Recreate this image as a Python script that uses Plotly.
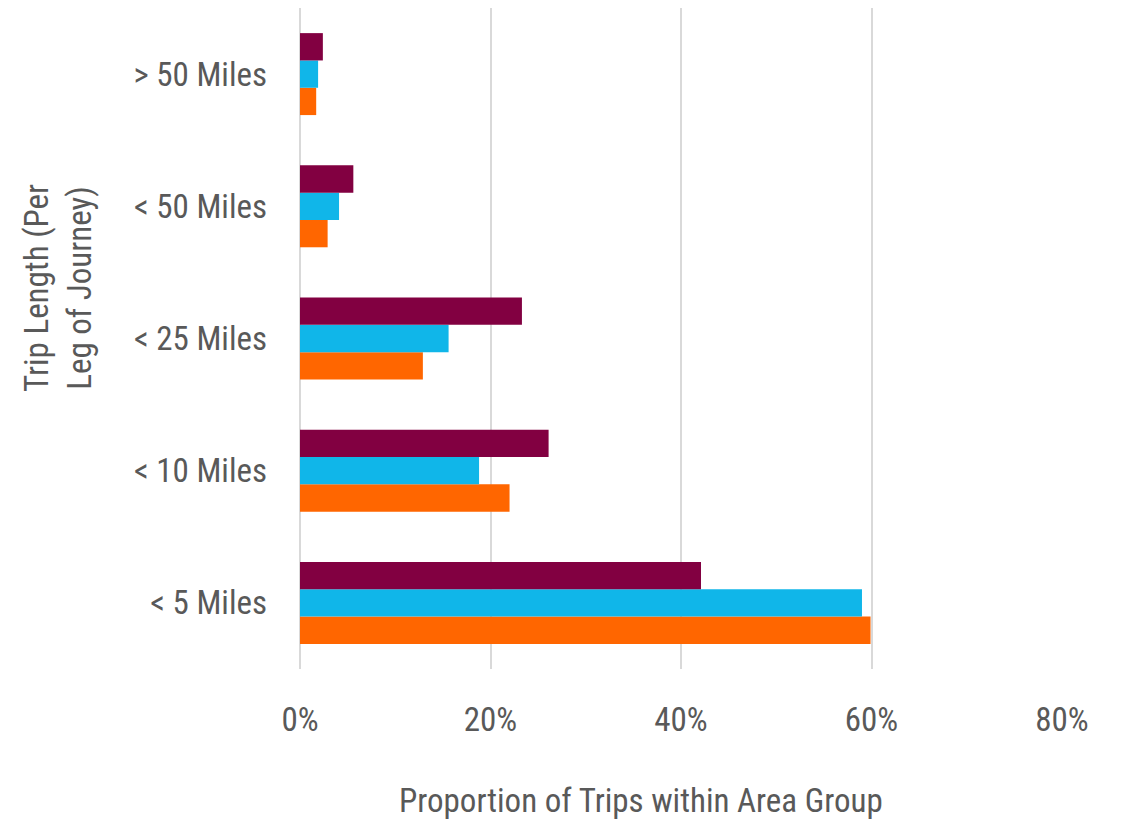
import plotly.graph_objects as go

categories = ["< 5 Miles", "< 10 Miles", "< 25 Miles", "< 50 Miles", "> 50 Miles"]
series_orange = [0.599, 0.220, 0.129, 0.029, 0.017]
series_cyan = [0.590, 0.188, 0.156, 0.041, 0.019]
series_maroon = [0.421, 0.261, 0.233, 0.056, 0.024]
x_ticks = [0, 0.2, 0.4, 0.6, 0.8]
x_tick_labels = ["0%", "20%", "40%", "60%", "80%"]

FONT = "Liberation Sans Narrow, Arial Narrow, Roboto Condensed, sans-serif"
TXT = "#595959"
FS = 33

fig = go.Figure()
for name, vals, col in [
    ("Series 1", series_orange, "#FF6600"),
    ("Series 2", series_cyan, "#10B6E9"),
    ("Series 3", series_maroon, "#820041"),
]:
    fig.add_trace(go.Bar(y=categories, x=vals, orientation="h", name=name,
                         marker=dict(color=col, line=dict(width=0))))

fig.update_layout(
    width=1122, height=820,
    margin=dict(l=300, r=60, t=8, b=151),
    barmode="group", bargap=0.38, bargroupgap=0,
    showlegend=False,
    plot_bgcolor="white", paper_bgcolor="white",
    font=dict(family=FONT, size=FS, color=TXT),
    xaxis=dict(range=[0, 0.8], tickvals=x_ticks, ticktext=x_tick_labels,
               showgrid=True, gridcolor="#D9D9D9", gridwidth=2,
               zeroline=True, zerolinecolor="#D9D9D9", zerolinewidth=2,
               showline=False, ticks="", ticklabelstandoff=28,
               tickfont=dict(family=FONT, size=FS, color=TXT)),
    yaxis=dict(categoryorder="array", categoryarray=categories,
               range=[-0.5, 4.5], showgrid=False, zeroline=False, showline=False,
               ticks="", ticklabelstandoff=32,
               tickfont=dict(family=FONT, size=FS, color=TXT)),
    annotations=[
        dict(text="Proportion of Trips within Area Group", xref="paper", yref="paper",
             x=(641 - 300) / 762, y=(669 - 800) / 661, xanchor="center", yanchor="middle",
             showarrow=False, font=dict(family=FONT, size=FS, color=TXT)),
        dict(text="Trip Length (Per<br>Leg of Journey)", xref="paper", yref="paper",
             x=(58 - 300) / 762, y=(669 - 288) / 661, xanchor="center", yanchor="middle",
             textangle=-90, showarrow=False, font=dict(family=FONT, size=FS, color=TXT)),
    ],
)

fig.write_html("out.html")
